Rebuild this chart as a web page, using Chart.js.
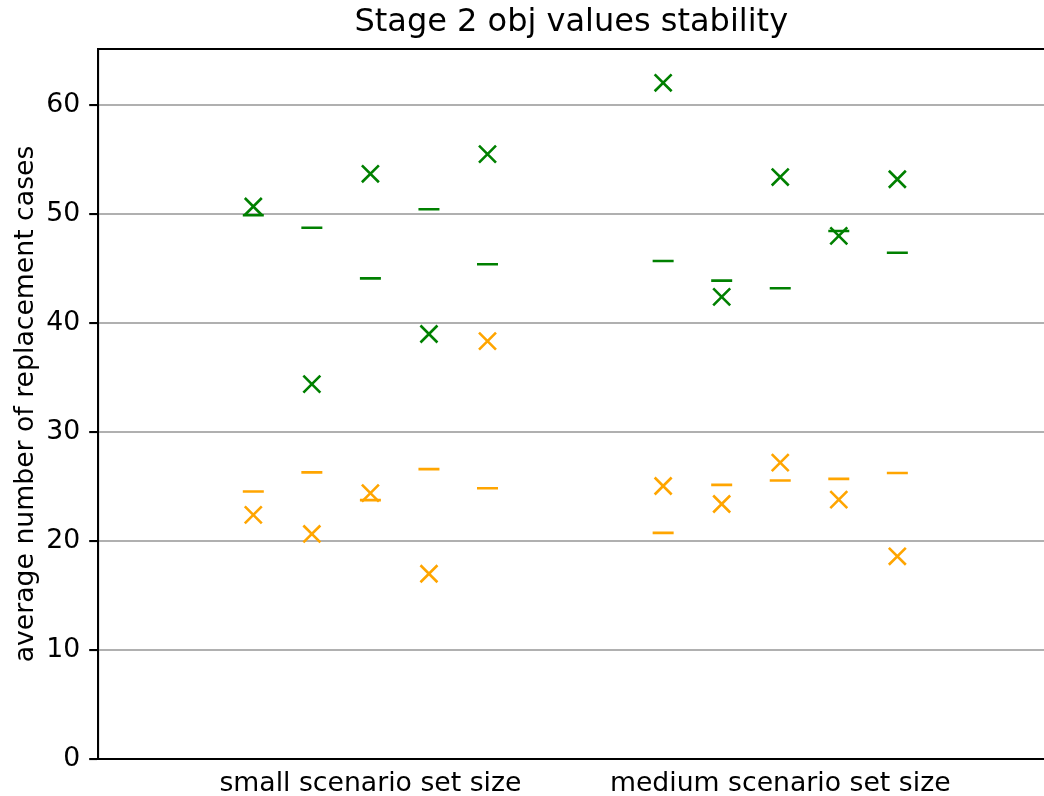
<!DOCTYPE html>
<html>
<head>
<meta charset="utf-8">
<script src="https://cdn.jsdelivr.net/npm/chart.js@4.4.0/dist/chart.umd.min.js"></script>
<style>
  html, body { margin: 0; padding: 0; background: #fff; overflow: hidden; }
  #wrap { width: 1044px; height: 796px; }
  canvas { display: block; }
</style>
</head>
<body>
<div id="wrap"><canvas id="chart" width="1044" height="796"></canvas></div>
<script>
// category labels and where they sit on the x axis
const categories = ['small scenario set size', 'medium scenario set size'];
const categoryPositions = [3, 10];

// x position of each run (5 per category)
const runPositions = [1, 2, 3, 4, 5, 8, 9, 10, 11, 12];

// values
const greenCross = [50.7, 34.4, 53.7, 39.0, 55.5, 62.05, 42.4, 53.4, 48.0, 53.2];
const greenDash = [49.9, 48.75, 44.1, 50.45, 45.4, 45.7, 43.9, 43.2, 48.45, 46.45];
const orangeCross = [22.4, 20.65, 24.4, 17.0, 38.35, 25.05, 23.4, 27.2, 23.8, 18.6];
const orangeDash = [24.55, 26.3, 23.75, 26.6, 24.85, 20.75, 25.15, 25.55, 25.7, 26.25];

const yTicks = [0, 10, 20, 30, 40, 50, 60];

const GREEN = '#008000';
const ORANGE = '#ffa500';
const FONT = 'DejaVu Sans';

function toPoints(values) {
    return values.map((v, i) => ({ x: runPositions[i], y: v }));
}

function markerSet(values, color, style, radius) {
    return {
        data: toPoints(values),
        pointStyle: style,
        pointRadius: radius,
        pointHoverRadius: radius,
        borderColor: color,
        backgroundColor: color,
        pointBorderWidth: 2.6,
        showLine: false
    };
}

// top spine (matplotlib box)
const topSpine = {
    id: 'topSpine',
    afterDraw(chart) {
        const { ctx, chartArea } = chart;
        ctx.save();
        ctx.strokeStyle = '#000';
        ctx.lineWidth = 2.1;
        ctx.beginPath();
        ctx.moveTo(chartArea.left - 1, chartArea.top);
        ctx.lineTo(chart.width, chartArea.top);
        ctx.stroke();
        ctx.restore();
    }
};

new Chart(document.getElementById('chart'), {
    type: 'scatter',
    data: {
        datasets: [
            markerSet(greenCross, GREEN, 'crossRot', 12),
            markerSet(greenDash, GREEN, 'line', 10.5),
            markerSet(orangeCross, ORANGE, 'crossRot', 12),
            markerSet(orangeDash, ORANGE, 'line', 10.5)
        ]
    },
    options: {
        responsive: false,
        animation: false,
        events: [],
        layout: { autoPadding: false, padding: 0 },
        plugins: {
            legend: { display: false },
            tooltip: { enabled: false },
            title: {
                display: true,
                fullSize: false,
                text: 'Stage 2 obj values stability',
                color: '#000',
                font: { family: FONT, size: 32, weight: 'normal', lineHeight: 1.2 },
                padding: { top: 3, bottom: 7.6 }
            }
        },
        scales: {
            x: {
                type: 'linear',
                min: -1.644,
                max: 14.505,
                grid: { display: false },
                border: { display: true, color: '#000', width: 2.1 },
                ticks: {
                    color: '#000',
                    padding: 1,
                    font: { family: FONT, size: 26.7 },
                    maxRotation: 0,
                    autoSkip: false,
                    callback: (value) => {
                        const k = categoryPositions.indexOf(value);
                        return k >= 0 ? categories[k] : '';
                    }
                },
                afterBuildTicks: (scale) => {
                    scale.ticks = categoryPositions.map(v => ({ value: v }));
                },
                afterFit: (scale) => { scale.height = 37; }
            },
            y: {
                type: 'linear',
                min: 0,
                max: 65.15,
                grid: {
                    color: '#b0b0b0',
                    lineWidth: 2.1,
                    tickColor: '#000',
                    tickWidth: 2.1,
                    tickLength: 9.3
                },
                border: { display: true, color: '#000', width: 2.1 },
                ticks: {
                    color: '#000',
                    padding: 9,
                    font: { family: FONT, size: 26.7 }
                },
                afterBuildTicks: (scale) => {
                    scale.ticks = yTicks.map(v => ({ value: v }));
                },
                title: {
                    display: true,
                    text: 'average number of replacement cases',
                    color: '#000',
                    font: { family: FONT, size: 26.7, lineHeight: 1.2 },
                    padding: { top: 10, bottom: 0 }
                },
                afterFit: (scale) => { scale.width = 98.5; }
            }
        }
    },
    plugins: [topSpine]
});
</script>
</body>
</html>
